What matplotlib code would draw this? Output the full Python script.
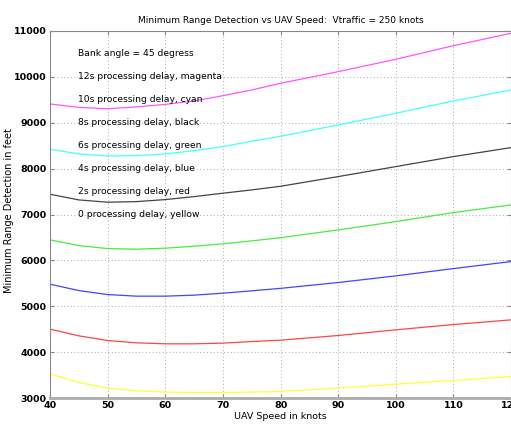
import matplotlib
matplotlib.use('Agg')
import matplotlib.pyplot as plt

# UAV speed (knots) and minimum range detection (feet) per processing delay
speed = [40, 45, 50, 55, 60, 65, 70, 75, 80, 90, 100, 110, 120]

delay_12s = [9410, 9335, 9305, 9345, 9400, 9475, 9590, 9715, 9860, 10114, 10383, 10680, 10950]
delay_10s = [8423, 8320, 8277, 8283, 8320, 8392, 8480, 8597, 8705, 8952, 9207, 9475, 9715]
delay_8s = [7442, 7318, 7268, 7281, 7325, 7390, 7464, 7536, 7615, 7826, 8044, 8262, 8458]
delay_6s = [6447, 6323, 6257, 6244, 6266, 6309, 6360, 6425, 6494, 6664, 6845, 7042, 7209]
delay_4s = [5481, 5342, 5255, 5220, 5220, 5242, 5285, 5336, 5390, 5517, 5662, 5821, 5974]
delay_2s = [4501, 4355, 4253, 4203, 4181, 4181, 4196, 4231, 4260, 4362, 4486, 4601, 4703]
delay_0s = [3527, 3338, 3216, 3157, 3129, 3120, 3120, 3129, 3142, 3216, 3303, 3381, 3468]

series = [delay_12s, delay_10s, delay_8s, delay_6s, delay_4s, delay_2s, delay_0s]
colors = ['#ff55ff', '#44ffff', '#444444', '#44ee44', '#4444ff', '#ff4444', '#ffff33']

notes = ['Bank angle = 45 degress',
         '12s processing delay, magenta',
         '10s processing delay, cyan',
         '8s processing delay, black',
         '6s processing delay, green',
         '4s processing delay, blue',
         '2s processing delay, red',
         '0 processing delay, yellow']
note_y = [10500, 10000, 9500, 9000, 8500, 8000, 7500, 7000]

fig = plt.figure(figsize=(5.11, 4.26), dpi=100)
ax = fig.add_axes([50/511, 1-398/426, 461/511, 367/426])

for vals, col in zip(series, colors):
    ax.plot(speed, vals, color=col, linewidth=0.9)

for txt, yv in zip(notes, note_y):
    ax.text(44.9, yv, txt, fontsize=6.6, va='center', ha='left', color='black')

ax.set_xlim(40, 120)
ax.set_ylim(3000, 11000)
ax.set_xticks(range(40, 121, 10))
ax.set_yticks(range(3000, 11001, 1000))
ax.grid(True, linestyle=(0, (1, 2.5)), color='#aaaaaa', linewidth=0.7)
ax.tick_params(direction='in', top=True, right=True, length=3, color='#888888',
               labelsize=6.8, pad=2.5)
for lab in ax.get_xticklabels() + ax.get_yticklabels():
    lab.set_fontweight('bold')
for side in ['left', 'top', 'right']:
    ax.spines[side].set_color('#888888')
    ax.spines[side].set_linewidth(0.8)
ax.spines['bottom'].set_color('#aaaaaa')
ax.spines['bottom'].set_linewidth(2)

ax.set_title('Minimum Range Detection vs UAV Speed:  Vtraffic = 250 knots', fontsize=6.5, pad=6)
ax.set_xlabel('UAV Speed in knots', fontsize=6.8, labelpad=1)
ax.set_ylabel('Minimum Range Detection in feet', fontsize=7)
ax.yaxis.set_label_coords(-0.078, 0.512)

fig.savefig('out.png', dpi=100)
